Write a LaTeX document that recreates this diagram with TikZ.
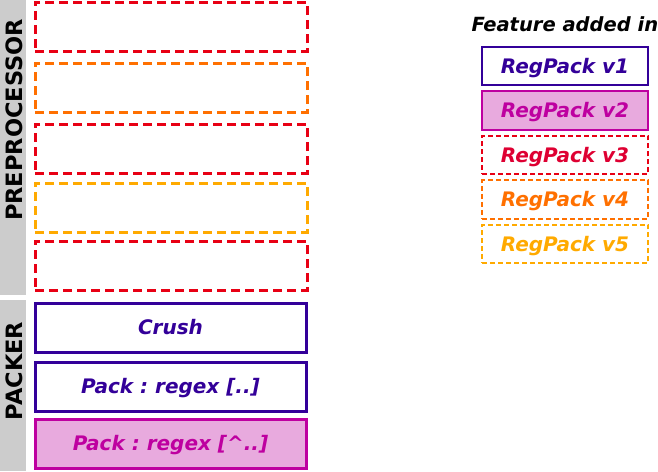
\documentclass[tikz,border=0pt]{standalone}
\usepackage{fontspec}
\setsansfont{DejaVu Sans}[BoldFont={DejaVu Sans Bold},
  ItalicFont={DejaVu Sans Oblique},BoldItalicFont={DejaVu Sans Bold Oblique}]
\usetikzlibrary{positioning}
\definecolor{vone}{RGB}{51,0,153}
\definecolor{vtwo}{RGB}{190,0,160}
\definecolor{vtwofill}{RGB}{232,170,222}
\definecolor{vthree}{RGB}{232,0,20}
\definecolor{vthreetxt}{RGB}{222,0,50}
\definecolor{vfour}{RGB}{255,112,0}
\definecolor{vfive}{RGB}{255,170,0}
\definecolor{barg}{RGB}{204,204,204}
\tikzset{
  box/.style    ={draw, outer sep=0pt, line width=3pt, minimum width=272pt,
                  minimum height=49pt, text height=14.6pt, text depth=0pt,
                  font=\sffamily\bfseries\itshape\frenchspacing\fontsize{20}{23}\selectfont},
  pre/.style    ={box, dash pattern=on 9pt off 5pt},
  vA/.style     ={box, draw=vone, text=vone},
  vB/.style     ={box, draw=vtwo, fill=vtwofill, text=vtwo},
  key/.style    ={box, line width=2pt, minimum width=166pt, minimum height=38.5pt},
  keyd/.style   ={key, dash pattern=on 5pt off 3pt},
  bar/.style    ={fill=barg, draw=none, outer sep=0pt, minimum width=26pt, inner sep=0pt},
  stage/.style  ={rotate=90, font=\sffamily\bfseries\fontsize{22.5}{25}\selectfont},
}

\begin{document}
\begin{tikzpicture}[x=1pt,y=-1pt]
  \useasboundingbox (0,0) rectangle (658,471);

  % grey side bars
  \node[bar, minimum height=295pt, anchor=north west] (prebar) at (0,0) {};
  \node[bar, minimum height=171pt, anchor=north west] (packbar) at (0,300) {};
  \node[stage] (prelbl) at (14.5,120) {PREPROCESSOR};
  \node[stage] (packlbl) at (14.5,371) {PACKER};

  % preprocessor stages (empty)
  \node[pre, draw=vthree] (pre1) at (171,26.5) {};
  \node[pre, draw=vfour, below=12pt of pre1] (pre2) {};
  \node[pre, draw=vthree, below=12pt of pre2] (pre3) {};
  \node[pre, draw=vfive, below=10pt of pre3] (pre4) {};
  \node[pre, draw=vthree, below=9pt of pre4] (pre5) {};

  % packer stages
  \node[vA, minimum width=271pt] (crush) at (170.5,327.5) {Crush};
  \node[vA, minimum width=271pt, below=10pt of crush] (packa) {Pack : regex [..]};
  \node[vB, minimum width=271pt, below=8pt of packa] (packb)
        {Pack : regex [\textasciicircum..]};

  % legend
  \node[font=\sffamily\bfseries\itshape\fontsize{19.5}{22}\selectfont,
        anchor=base west] (title) at (468,31) {Feature added in};
  \node[key, draw=vone, text=vone] (k1) at (565,66) {RegPack v1};
  \node[key, draw=vtwo, fill=vtwofill, text=vtwo, below=6pt of k1] (k2) {RegPack v2};
  \node[keyd, draw=vthree, text=vthreetxt, below=6pt of k2] (k3) {RegPack v3};
  \node[keyd, draw=vfour, text=vfour, below=6pt of k3] (k4) {RegPack v4};
  \node[keyd, draw=vfive, text=vfive, below=6pt of k4] (k5) {RegPack v5};
\end{tikzpicture}
\end{document}
